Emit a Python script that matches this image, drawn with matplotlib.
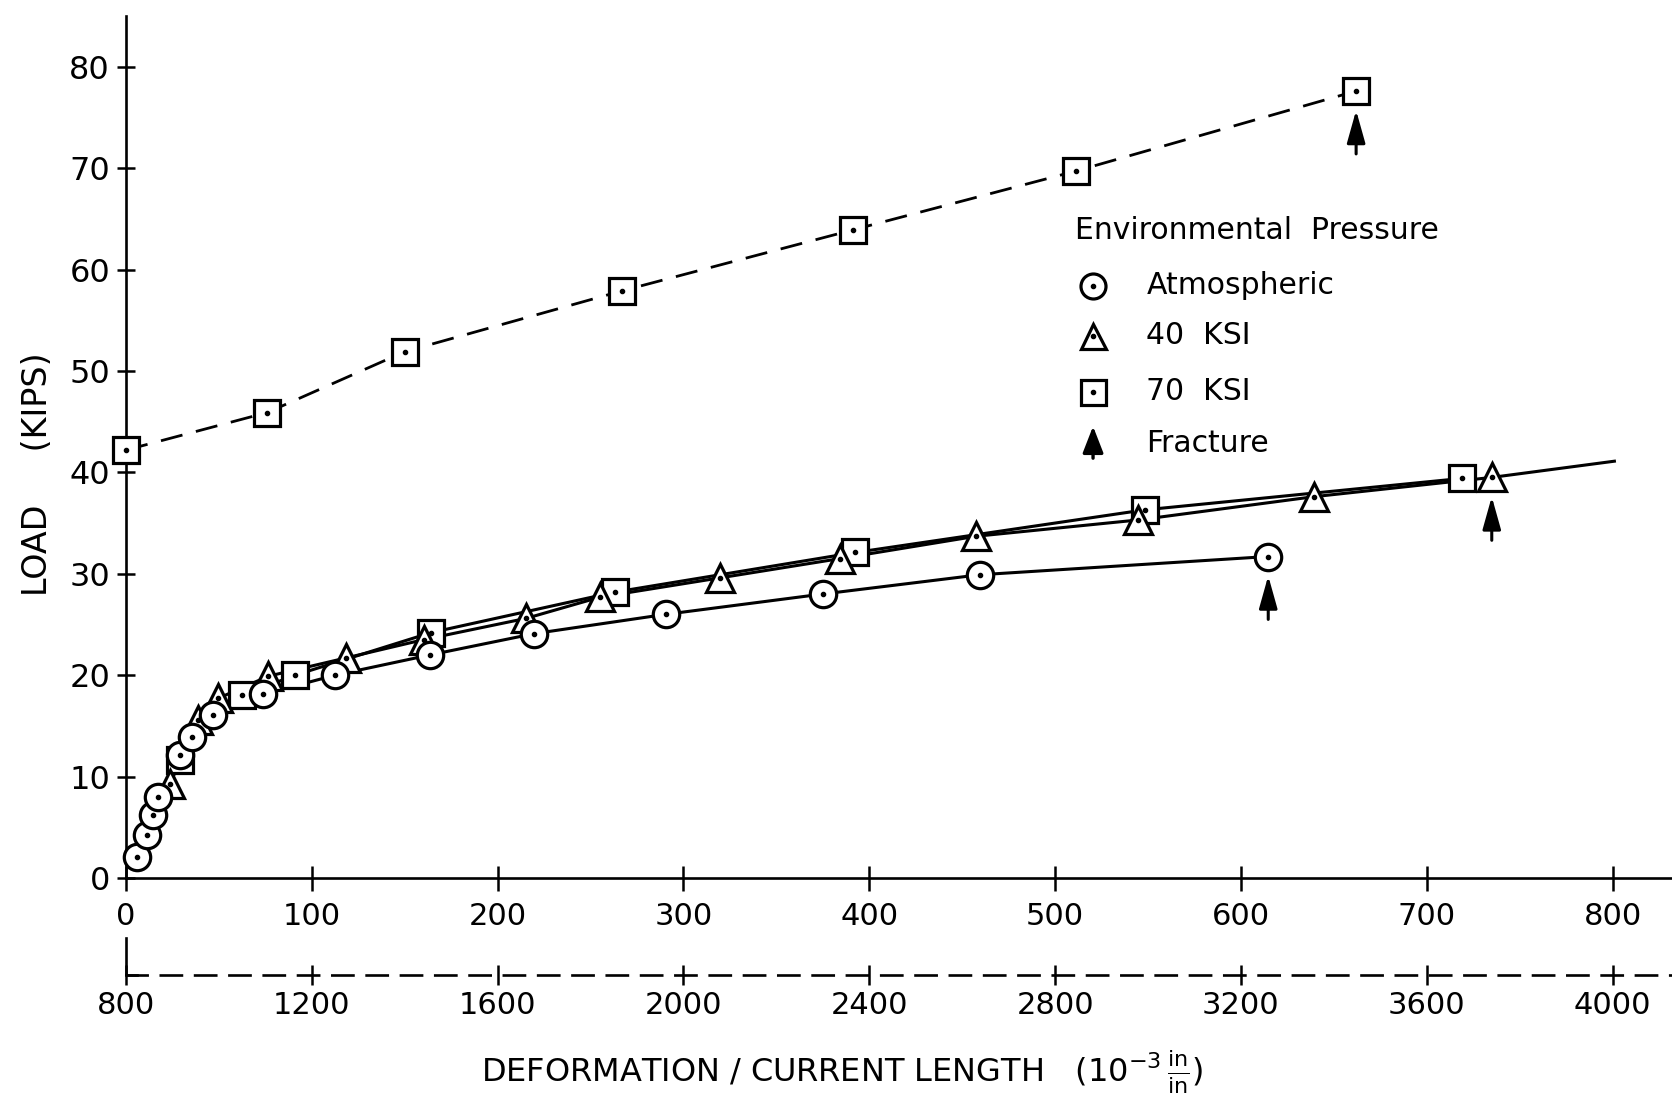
import matplotlib
matplotlib.use("Agg")
import matplotlib.pyplot as plt
from matplotlib.transforms import blended_transform_factory

# --- data (strain in 1e-3 in/in, load in kips) ---
# 70 KSI, upper dashed curve
sq_hi_x = [0, 76, 150, 267, 391, 511, 662]
sq_hi_y = [42.2, 45.9, 51.9, 57.9, 63.9, 69.7, 77.6]

# 70 KSI, lower solid curve
sq_x = [29.1, 62.3, 91.0, 164.2, 263.3, 392.5, 548.2, 718.8]
sq_y = [11.6, 18.0, 20.0, 24.2, 28.2, 32.1, 36.3, 39.4]

# 40 KSI
tri_x = [23.7, 38.9, 49.4, 76.6, 118.4, 160.1, 215.3, 255.2, 319.8, 384.4,
         457.6, 544.5, 639.3, 735.0]
tri_y = [9.3, 15.6, 17.7, 19.9, 21.7, 23.5, 25.6, 27.7, 29.6, 31.5,
         33.7, 35.3, 37.6, 39.5]
tri_tail_x = [735.0, 801.0]
tri_tail_y = [39.5, 41.1]

# atmospheric
circ_x = [5.8, 11.5, 14.7, 17.4, 29.1, 35.4, 46.7, 73.6, 112.5, 163.7,
          219.8, 290.5, 374.9, 459.4, 614.7]
circ_y = [2.1, 4.2, 6.2, 8.0, 12.1, 13.9, 16.1, 18.1, 20.0, 22.0,
          24.1, 26.0, 28.0, 29.9, 31.7]

# fracture points (arrows)
frac_x = [614.7, 735.0, 662]
frac_y = [31.7, 39.5, 77.6]

y_ticks = [0, 10, 20, 30, 40, 50, 60, 70, 80]
x_ticks = [0, 100, 200, 300, 400, 500, 600, 700, 800]
x2_ticks = [800, 1200, 1600, 2000, 2400, 2800, 3200, 3600, 4000]

fig = plt.figure(figsize=(16.72, 11.03), dpi=100)
ax = fig.add_axes([0.0754, 0.204, 0.9246, 0.7815])
ax.set_xlim(0, 832)
ax.set_ylim(0, 85)

for s in ["top", "right"]:
    ax.spines[s].set_visible(False)
for s in ["left", "bottom"]:
    ax.spines[s].set_linewidth(1.9)

ax.set_yticks(y_ticks)
ax.set_xticks(x_ticks)
ax.tick_params(axis="y", direction="inout", length=13, width=1.8, pad=5, labelsize=23)
ax.tick_params(axis="x", direction="inout", length=18, width=1.8, pad=8, labelsize=22)

# curves
ax.plot(sq_hi_x, sq_hi_y, color="black", lw=2.0, dashes=(8, 5), zorder=2)
ax.plot(sq_x, sq_y, color="black", lw=2.2, zorder=2)
ax.plot(tri_x, tri_y, color="black", lw=2.2, zorder=2)
ax.plot(tri_tail_x, tri_tail_y, color="black", lw=2.2, zorder=2)
ax.plot(circ_x, circ_y, color="black", lw=2.2, zorder=2)

mk = dict(ls="none", mfc="white", mec="black", mew=2.3, clip_on=False)
dot = dict(ls="none", marker="o", ms=3.0, color="black", clip_on=False)
ax.plot(sq_hi_x, sq_hi_y, marker="s", ms=18.5, zorder=3, **mk)
ax.plot(sq_hi_x, sq_hi_y, zorder=3.1, **dot)
ax.plot(sq_x, sq_y, marker="s", ms=18.5, zorder=3.2, **mk)
ax.plot(sq_x, sq_y, zorder=3.3, **dot)
ax.plot(tri_x, tri_y, marker="^", ms=19.5, zorder=3.4, **mk)
ax.plot(tri_x, tri_y, zorder=3.5, **dot)
ax.plot(circ_x, circ_y, marker="o", ms=19, zorder=3.6, **mk)
ax.plot(circ_x, circ_y, zorder=3.7, **dot)

arrow_style = dict(arrowstyle="-|>,head_length=1.0,head_width=0.28", lw=2.2,
                   color="black", shrinkA=0, shrinkB=0, mutation_scale=20)
for fx, fy in zip(frac_x, frac_y):
    ax.annotate("", xy=(fx, fy - 1.9), xytext=(fx, fy - 6.2), arrowprops=arrow_style)

# secondary strain scale (dashed)
sec = ax.secondary_xaxis(-0.112, functions=(lambda v: 800 + 4 * v, lambda v: (v - 800) / 4))
sec.set_xticks(x2_ticks)
for sp in sec.spines.values():
    sp.set_linewidth(1.9)
    sp.set_linestyle((0, (8, 5)))
sec.tick_params(axis="x", direction="inout", length=15, width=1.8, pad=4, labelsize=22)

tr = blended_transform_factory(ax.transData, ax.transAxes)
ax.plot([0, 0, 6], [-0.07, -0.112, -0.112], color="black", lw=1.9,
        transform=tr, clip_on=False)

# axis labels
ax.text(-0.057, 0.468, "LOAD     (KIPS)", rotation=90, ha="center", va="center",
        fontsize=24, transform=ax.transAxes)
ax.text(0.463, -0.225,
        r"DEFORMATION / CURRENT LENGTH   $(10^{-3}\,\frac{\mathrm{in}}{\mathrm{in}})$",
        ha="center", va="center", fontsize=23, transform=ax.transAxes)

# legend drawn by hand
ax.text(0.6138, 0.751, "Environmental  Pressure", ha="left", va="center",
        fontsize=21.5, transform=ax.transAxes)
leg_rows = [0.687, 0.629, 0.564, 0.504]
leg_labels = ["Atmospheric", "40  KSI", "70  KSI", "Fracture"]
leg_markers = ["o", "^", "s"]
for yy, m in zip(leg_rows[:3], leg_markers):
    ax.plot([0.6255], [yy], marker=m, ms=18, transform=ax.transAxes, **mk)
    ax.plot([0.6255], [yy], transform=ax.transAxes, **dot)
for yy, lab in zip(leg_rows, leg_labels):
    ax.text(0.660, yy, lab, ha="left", va="center", fontsize=21.5, transform=ax.transAxes)
ax.annotate("", xy=(0.6255, 0.524), xytext=(0.6255, 0.487), xycoords="axes fraction",
            arrowprops=dict(arrowstyle="-|>,head_length=0.9,head_width=0.35", lw=2.4,
                            color="black", shrinkA=0, shrinkB=0, mutation_scale=18))

fig.savefig("out.png", dpi=100)
